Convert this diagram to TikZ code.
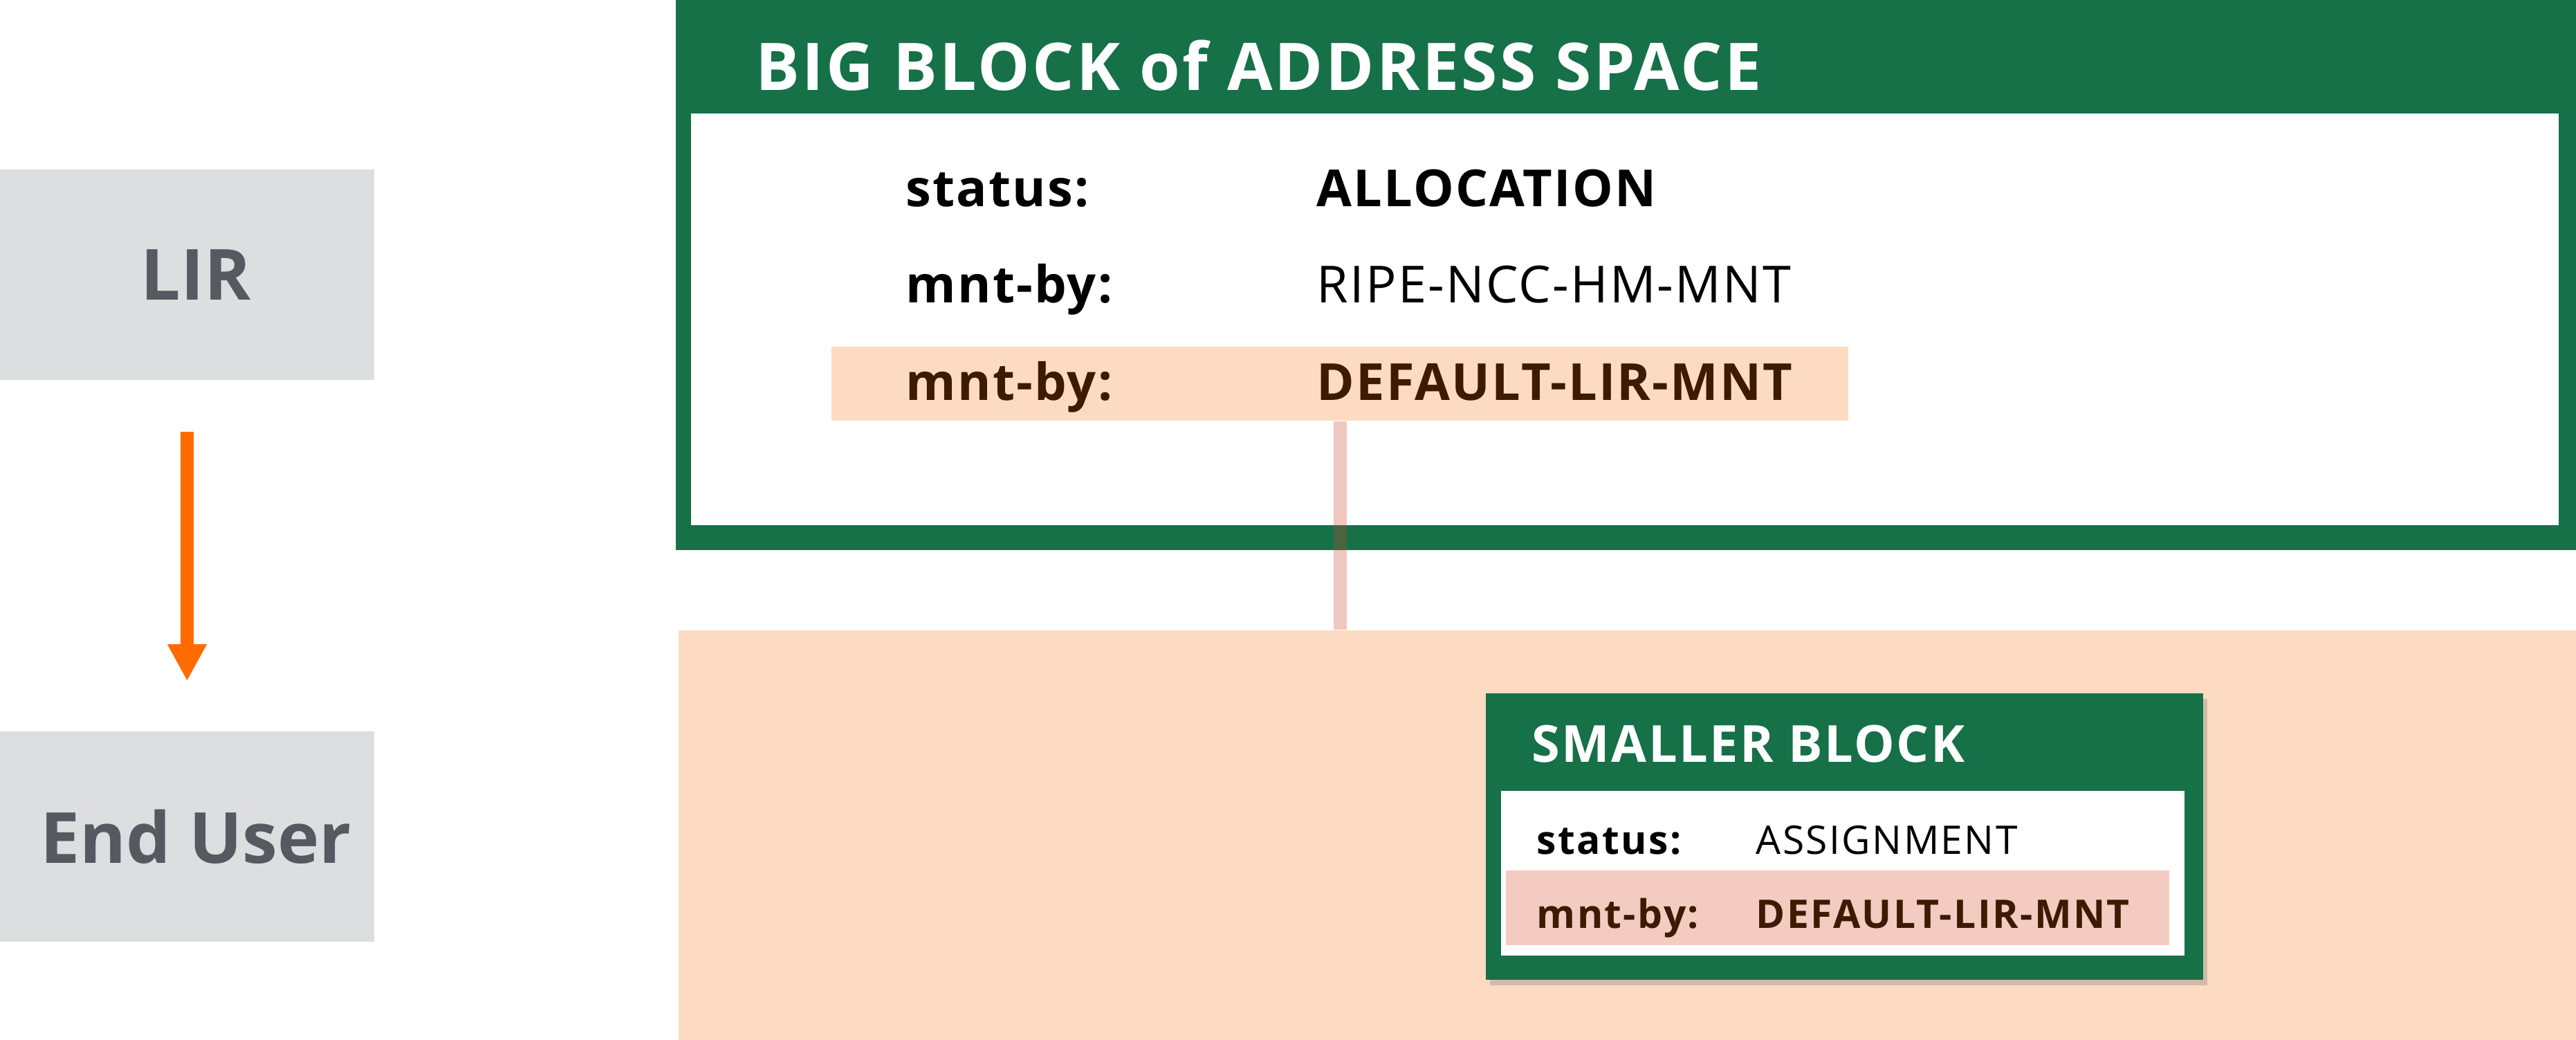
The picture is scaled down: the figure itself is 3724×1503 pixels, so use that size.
\documentclass[tikz,border=0pt]{standalone}
\usepackage{fontspec}
\setmainfont{Open Sans}
\usetikzlibrary{arrows.meta,shadows,fit}
\definecolor{rgreen}{RGB}{22,112,72}
\definecolor{lgray}{RGB}{221,222,224}
\definecolor{dgray}{RGB}{85,90,97}
\definecolor{peach}{RGB}{253,219,195}
\definecolor{pinkrow}{RGB}{243,203,192}
\definecolor{brownt}{RGB}{61,26,0}
\definecolor{rorange}{RGB}{255,107,0}
\definecolor{linkred}{RGB}{205,72,45}
\tikzset{
  leftbox/.style={fill=lgray, inner sep=0, minimum width=5.41cm, minimum height=3.04cm,
    text=dgray, font=\fontsize{29}{34}\selectfont\bfseries},
  area/.style={inner sep=0, draw=none},
  bigtitle/.style={anchor=base west, inner sep=0, text=white, font=\fontsize{27}{32}\selectfont\bfseries\addfontfeature{LetterSpace=3.5}},
  bigkey/.style={anchor=base west, inner sep=0, font=\fontsize{21}{25}\selectfont\bfseries\addfontfeature{LetterSpace=3}},
  bigval/.style={anchor=base west, inner sep=0, font=\fontsize{21}{25}\selectfont\addfontfeature{LetterSpace=3}},
  smalltitle/.style={anchor=base west, inner sep=0, text=white, font=\fontsize{21}{25}\selectfont\bfseries\addfontfeature{LetterSpace=3.3}},
  smallkey/.style={anchor=base west, inner sep=0, font=\fontsize{16.2}{19}\selectfont\bfseries\addfontfeature{LetterSpace=4.2}},
  smallval/.style={anchor=base west, inner sep=0, font=\fontsize{16.2}{19}\selectfont\addfontfeature{LetterSpace=4.2}},
  flowarrow/.style={draw=rorange, line width=0.19cm, -{Triangle[width=0.53cm,length=0.53cm]}},
  link/.style={draw=linkred, draw opacity=0.3, line width=0.19cm}
}
\begin{document}
\begin{tikzpicture}[x=0.01cm,y=-0.01cm]
\useasboundingbox (0,0) rectangle (3724,1503);
% left column
\node[leftbox] (lir) at (270.5,397) {\hspace*{0.25cm}LIR};
\node[leftbox] (eu) at (270.5,1209) {\hspace*{0.25cm}End User};
\draw[flowarrow, shorten <=0.74cm, shorten >=0.72cm] (lir) -- (eu);
% big block
\node[area, fill=rgreen, fit={(977,0) (3724,795)}] (big) {};
\node[area, fill=white, fit={(999,164) (3699,759)}] (bigin) {};
\node[bigtitle] (bigt) at (1092,131) {BIG BLOCK of ADDRESS SPACE};
\node[bigkey] (bk1) at (1309,298) {status:};
\node[bigkey] (bv1) at (1903,298) {ALLOCATION};
\node[bigkey] (bk2) at (1309,437) {mnt-by:};
\node[bigval] (bv2) at (1903,437) {RIPE-NCC-HM-MNT};
\node[area, fill=peach, fit={(1202,501) (2672,608)}] (bigrow) {};
\node[bigkey, text=brownt] (bk3) at (1309,578) {mnt-by:};
\node[bigkey, text=brownt] (bv3) at (1903,578) {DEFAULT-LIR-MNT};
% end-user area
\node[area, fill=peach, fit={(981,911) (3724,1503)}] (euarea) {};
% connector
\coordinate (linkx) at (1937,0);
\draw[link] (bigrow.south -| linkx) -- (euarea.north -| linkx);
% smaller block
\node[area, fill=rgreen, drop shadow={opacity=0.35, shadow xshift=0.06cm, shadow yshift=-0.08cm}, fit={(2148,1002) (3185,1416)}] (small) {};
\node[area, fill=white, fit={(2170,1143) (3158,1381)}] (smallin) {};
\node[smalltitle] (smallt) at (2214,1101) {SMALLER BLOCK};
\node[smallkey] (sk1) at (2221,1234) {status:};
\node[smallval] (sv1) at (2538,1234) {ASSIGNMENT};
\node[area, fill=pinkrow, fit={(2177,1258) (3136,1366)}] (smallrow) {};
\node[smallkey, text=brownt] (sk2) at (2221,1341) {mnt-by:};
\node[smallkey, text=brownt] (sv2) at (2538,1341) {DEFAULT-LIR-MNT};
\end{tikzpicture}
\end{document}
